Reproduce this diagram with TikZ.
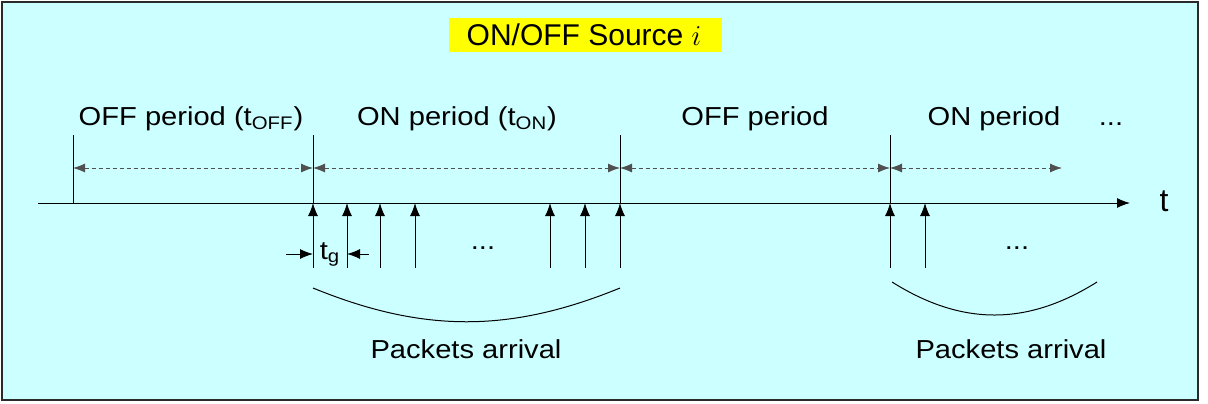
\documentclass[tikz,border=0pt]{standalone}
\usepackage{fontspec}
\setmainfont{Liberation Sans}
\newfontfamily\widesans{Liberation Sans}[FakeStretch=1.12]
\usetikzlibrary{arrows.meta,positioning,calc}
\definecolor{panelcyan}{HTML}{CCFFFF}
\definecolor{titleyellow}{HTML}{FFFF00}
\definecolor{framegrey}{HTML}{2A2A2A}
\definecolor{spangrey}{HTML}{505050}
\tikzset{
  lbl/.style={font=\widesans\fontsize{13}{15}\selectfont, inner sep=0pt, anchor=base},
  tick/.style={line width=0.5pt, draw=black},
  span/.style={{Latex[length=6pt,width=4.5pt]}-{Latex[length=6pt,width=4.5pt]},
               line width=0.4pt, draw=spangrey, dash pattern=on 2pt off 1.5pt},
  pkt/.style={-{Latex[length=6.5pt,width=5pt]}, line width=0.5pt, draw=black},
  arc/.style={line width=0.5pt, draw=black},
}

\begin{document}
\begin{tikzpicture}[x=0.5pt, y=-0.5pt]
\useasboundingbox (0,0) rectangle (1208,403);
% ---------- panel -------------------------------------------------------
\draw[draw=framegrey, line width=0.7pt, fill=panelcyan] (2,2) rectangle (1198,400);
\node[fill=titleyellow, minimum width=136.5pt, minimum height=17pt, inner sep=0pt]
   (title) at (585.5,35) {};
\node[font=\fontsize{15}{17}\selectfont, inner sep=0pt, anchor=base]
   (titletext) at (584,45) {ON/OFF Source $i$};

% ---------- time axis ---------------------------------------------------
\coordinate (axl) at (38,203);
\coordinate (axr) at (1130,203);
\draw[pkt] (axl) -- (axr);
\node[font=\fontsize{16}{18}\selectfont, inner sep=0pt, anchor=base] (tlbl) at (1164,211) {t};

% period boundaries
\foreach \n/\x in {0/73,1/313,2/620,3/890}{
  \coordinate (bt\n) at (\x,135);
  \coordinate (bs\n) at (\x,168);
  \coordinate (ba\n) at (\x,203);
  \draw[tick] (bt\n) -- (ba\n);}
\coordinate (bs4) at (1062,168);

\draw[span] (bs0) -- (bs1);
\draw[span] (bs1) -- (bs2);
\draw[span] (bs2) -- (bs3);
\draw[span] (bs3) -- (bs4);

\node[lbl] (off1) at (191,125) {OFF period (t\textsubscript{OFF})};
\node[lbl] (on1)  at (457,125) {ON period (t\textsubscript{ON})};
\node[lbl] (off2) at (755,125) {OFF period};
\node[lbl] (on2)  at (994,125) {ON period};
\node[lbl] (more) at (1111,125) {...};

% ---------- packet arrivals ---------------------------------------------
\foreach \n/\x in {1/313,2/347,3/380,4/415,5/550,6/585,7/620,8/890,9/925}{
  \coordinate (pb\n) at (\x,268);
  \coordinate (pt\n) at (\x,203);
  \draw[pkt] (pb\n) -- (pt\n);}
\node[lbl] (dots1) at (483,249) {...};
\node[lbl] (dots2) at (1017,249) {...};

% inter-arrival gap
\coordinate (gl) at (286,254);
\coordinate (gr) at (369,254);
\draw[pkt] (gl) -- (pb1 |- gl);
\draw[pkt] (gr) -- (pb2 |- gr);
\node[lbl] (tg) at (330,259) {t\textsubscript{g}};

% ---------- braces under the arrivals -----------------------------------
\coordinate (a1l) at (313,288);
\coordinate (a1r) at (620,288);
\coordinate (a2l) at (892,282);
\coordinate (a2r) at (1097,282);
\draw[arc] (a1l) .. controls (423,333) and (510,333) .. (a1r);
\draw[arc] (a2l) .. controls (962,326) and (1027,326) .. (a2r);
\node[lbl] (pa1) at (466,358) {Packets arrival};
\node[lbl] (pa2) at (1011,358) {Packets arrival};
\end{tikzpicture}
\end{document}
